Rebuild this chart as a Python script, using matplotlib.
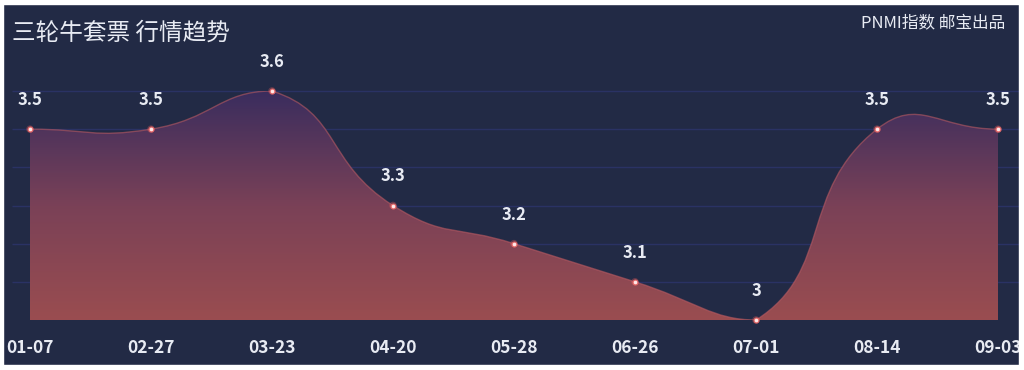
import matplotlib.pyplot as plt
import numpy as np
from matplotlib.path import Path
from matplotlib.patches import PathPatch, Rectangle
from matplotlib.colors import LinearSegmentedColormap

plt.rcParams['font.family'] = ['Noto Sans CJK SC', 'DejaVu Sans']

# data
dates = ['01-07', '02-27', '03-23', '04-20', '05-28', '06-26', '07-01', '08-14', '09-03']
prices = [3.5, 3.5, 3.6, 3.3, 3.2, 3.1, 3.0, 3.5, 3.5]
grid_levels = [3.1, 3.2, 3.3, 3.4, 3.5, 3.6]
title = '三轮牛套票 行情趋势'
credit = 'PNMI指数 邮宝出品'

W, H = 1024, 370
bg = '#222a45'
txt = '#e8ebf3'

fig = plt.figure(figsize=(W / 100, H / 100), dpi=100, facecolor='white')
fig.add_artist(Rectangle((0, 0), 1, 1, transform=fig.transFigure,
                         color=bg, zorder=-5))

ax = fig.add_axes([30 / W, (H - 320) / H, 968 / W, 229 / H])
ax.patch.set_alpha(0)
ax.axis('off')

x = np.arange(len(prices), dtype=float)
y = np.array(prices, dtype=float)

# echarts-like smooth bezier, worked out in pixel space
sx, sy = 121.0, 229 / 0.6
px, py = x * sx, y * sy
n = len(px)
smooth = 0.5
bmin = np.array([px.min(), py.min()])
bmax = np.array([px.max(), py.max()])
verts = [(x[0], y[0])]
codes = [Path.MOVETO]
for i in range(1, n):
    cps = []
    for j, side in ((i - 1, 1), (i, 0)):
        p = np.array([px[j], py[j]])
        prv = np.array([px[max(j - 1, 0)], py[max(j - 1, 0)]])
        nxt = np.array([px[min(j + 1, n - 1)], py[min(j + 1, n - 1)]])
        l0 = np.hypot(*(p - prv))
        l1 = np.hypot(*(nxt - p))
        r = l1 / (l0 + l1)
        v = nxt - prv
        if side == 1:
            cp = p + v * smooth * r
        else:
            cp = p - v * smooth * (1 - r)
        cp = np.minimum(np.maximum(cp, bmin), bmax)
        cps.append((cp[0] / sx, cp[1] / sy))
    verts += [cps[0], cps[1], (x[i], y[i])]
    codes += [Path.CURVE4] * 3

line_path = Path(verts, codes)
area_path = Path(verts + [(x[-1], 3.0), (x[0], 3.0), (x[0], y[0])],
                 codes + [Path.LINETO, Path.LINETO, Path.CLOSEPOLY])

# grid lines
ax.hlines(grid_levels, -0.15, 8.2, color='#30397a', lw=1, alpha=0.6,
          clip_on=False, zorder=1)

# gradient area
cmap = LinearSegmentedColormap.from_list('g', ['#9a4d50', '#7a4157', '#3a2d5e'])
grad = np.linspace(0, 1, 256).reshape(-1, 1)
patch = PathPatch(area_path, facecolor='none', edgecolor='none')
ax.add_patch(patch)
im = ax.imshow(grad, extent=[0, 8, 3.0, 3.6], origin='lower', aspect='auto',
               cmap=cmap, zorder=2)
im.set_clip_path(patch)

ax.add_patch(PathPatch(line_path, facecolor='none', edgecolor='#b85a62',
                       lw=1.0, alpha=0.6, zorder=3))
ax.scatter(x, y, s=30, facecolor='#e0585a', edgecolor='none', alpha=0.35,
           zorder=4, clip_on=False)
ax.scatter(x, y, s=12, facecolor='#ffe8e8', edgecolor='#e86a6a', lw=0.8,
           zorder=5, clip_on=False)

for xi, yi in zip(x, y):
    ax.annotate(f'{yi:g}', (xi, yi), xytext=(0, 21), textcoords='offset points',
                ha='center', va='center', fontsize=12, color=txt,
                fontweight='bold', annotation_clip=False)

for xi, d in zip(x, dates):
    ax.annotate(d, (xi, 3.0), xytext=(0, -20.5), textcoords='offset points',
                ha='center', va='center', fontsize=12.5, color=txt,
                fontweight='bold', annotation_clip=False)

ax.set_xlim(0, 8)
ax.set_ylim(3.0, 3.6)

fig.text(12 / W, 1 - 33 / H, title, ha='left', va='center', fontsize=17,
         color=txt, fontweight='medium')
fig.text(1005 / W, 1 - 23 / H, credit, ha='right', va='center', fontsize=12,
         color=txt, fontweight='medium')

# white margins of the screenshot
for r in [(0, 0, 3 / W, 1), (1019 / W, 0, 1, 1), (0, 0, 1, 5 / H),
          (0, 1 - 4 / H, 1, 4 / H)]:
    fig.add_artist(Rectangle(r[:2], r[2], r[3], transform=fig.transFigure,
                             color='white', zorder=10))

fig.savefig('out.png', dpi=100, facecolor='white')
